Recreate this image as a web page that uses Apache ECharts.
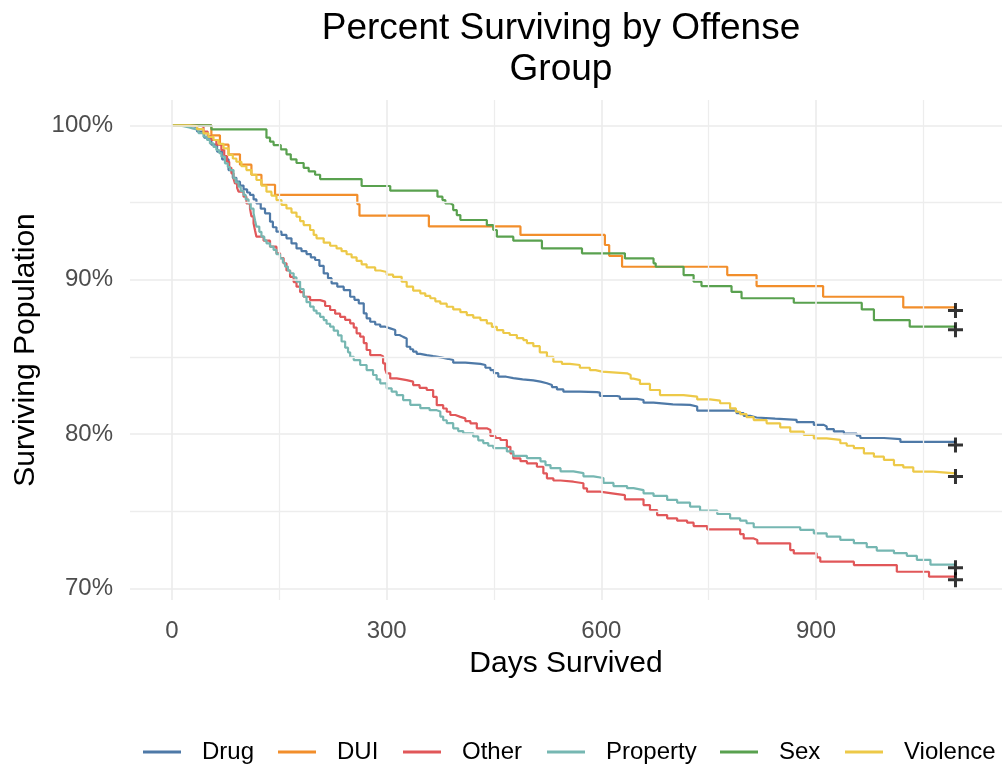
<!DOCTYPE html>
<html><head><meta charset="utf-8">
<script src="https://cdn.jsdelivr.net/npm/echarts@6/dist/echarts.min.js"></script>
<style>html,body{margin:0;padding:0;background:#fff}#c{width:1004px;height:764px}</style>
</head><body><div id="c"></div>
<script>
const groups = ['Drug','DUI','Other','Property','Sex','Violence'];
const colors = ['#4E79A7','#F28E2B','#E15759','#76B7B2','#59A14F','#EDC948'];

const drugDays = [0,20,35,45,55,63,70,79,85,90,95,100,105,109,114,118,124,130,137,141,146,153,160,167,174,181,188,194,200,206,212,218,223,231,240,249,255,261,268,272,277,284,291,298,305,312,318,323,328,333,337,342,347,356,365,376,386,393,410,431,438,445,450,456,467,477,490,505,515,524,531,538,547,570,594,598,622,626,650,659,673,700,724,734,789,799,808,817,843,873,897,911,915,925,939,957,962,995,1018,1095];
const drugPct = [100,99.9,99.6,99.2,98.75,98.3,97.8,97.1,96.6,96.35,96.1,95.85,95.65,95.49,95.2,94.95,94.6,94.3,93.76,93.4,93.11,92.9,92.68,92.35,92.03,91.85,91.66,91.45,91.28,90.9,90.41,90.1,89.77,89.55,89.33,88.9,88.7,88.47,87.82,87.5,87.28,87.1,86.96,86.85,86.74,86.42,86.3,86.2,85.66,85.5,85.34,85.2,85.12,85.05,84.97,84.88,84.8,84.63,84.55,84.48,84.3,84.15,83.95,83.72,83.63,83.55,83.48,83.4,83.3,83.18,83.05,82.9,82.75,82.72,82.69,82.47,82.43,82.28,82.21,82.04,81.93,81.9,81.79,81.53,81.36,81.19,81.08,81.0,80.93,80.78,80.6,80.5,80.33,80.18,80.03,79.9,79.75,79.68,79.5,79.5];

const duiDays = [0,55,67,79,95,111,125,144,259,262,359,487,605,611,629,776,817,910,1022,1095];
const duiPct = [100,99.35,98.75,98.12,97.45,96.8,96.15,95.5,94.9,94.15,93.45,92.9,92.25,91.55,90.84,90.3,89.59,88.9,88.21,88.21];

const otherDays = [0,30,44,50,55,62,69,73,77,80,83,86,88,91,93,100,104,109,111,114,116,118,128,137,146,151,156,160,165,170,174,179,184,193,207,214,221,228,235,242,249,254,258,263,268,272,277,291,295,298,300,305,314,328,337,346,356,365,370,379,384,389,396,403,410,417,426,440,445,452,459,468,473,477,487,496,510,519,524,533,543,561,575,580,598,615,633,659,668,678,692,706,720,729,748,794,799,813,818,864,869,901,906,953,1013,1058,1095];
const otherPct = [100,99.95,99.59,99.3,99.05,98.75,98.4,98.0,97.64,97.25,96.89,96.55,96.24,95.95,95.7,95.38,94.95,94.62,94.1,93.65,93.2,92.79,92.53,92.14,91.71,91.4,91.06,90.6,90.19,89.85,89.55,89.2,88.9,88.68,88.58,88.3,88.04,87.8,87.6,87.4,87.18,86.9,86.53,86.31,85.9,85.45,85.12,85.05,84.59,84.2,83.94,83.61,83.5,83.4,83.18,83.0,82.86,82.42,81.88,81.66,81.45,81.24,81.12,81.02,80.85,80.7,80.38,80.27,79.88,79.75,79.62,79.18,78.76,78.43,78.25,78.11,77.89,77.46,77.14,77.0,76.92,76.82,76.49,76.28,76.17,76.05,75.78,75.41,75.09,74.76,74.55,74.4,74.27,74.05,73.84,73.53,73.25,73.14,72.93,72.49,72.28,72.02,71.74,71.52,71.09,70.77,70.77];

const propertyDays = [0,10,16,24,30,37,44,49,53,58,62,66,69,74,78,81,86,89,93,96,100,103,107,110,114,116,118,122,125,129,132,137,142,146,151,155,158,162,165,170,174,179,184,188,193,198,202,207,212,216,221,226,232,237,242,246,249,254,263,272,281,286,291,300,307,314,323,333,347,360,370,375,379,384,393,400,407,421,428,435,442,449,468,477,496,515,522,529,543,561,575,589,603,617,636,645,659,673,692,706,724,738,762,780,794,803,813,878,897,915,934,953,971,985,1009,1027,1041,1060,1095];
const propertyPct = [100,99.95,99.87,99.78,99.7,99.5,99.26,99.05,98.83,98.6,98.4,98.2,97.97,97.54,97.3,97.1,96.57,96.3,96.03,95.75,95.49,95.2,94.95,94.6,94.3,93.85,93.44,93.1,92.79,92.55,92.36,92.15,91.93,91.65,91.39,91.1,90.85,90.6,90.42,90.15,89.88,89.4,88.9,88.55,88.26,88.0,87.82,87.6,87.39,87.15,86.96,86.7,86.4,86.0,85.6,85.3,85.01,84.8,84.48,84.15,83.83,83.55,83.29,82.97,82.75,82.53,82.21,81.9,81.68,81.55,81.47,81.14,80.9,80.71,80.38,80.2,80.06,79.85,79.6,79.42,79.25,79.1,78.88,78.6,78.45,78.24,78.0,77.8,77.59,77.48,77.27,77.16,76.84,76.64,76.5,76.38,76.17,76.0,75.74,75.57,75.31,75.05,74.83,74.55,74.4,74.23,73.97,73.8,73.58,73.37,73.15,72.94,72.68,72.46,72.29,72.12,71.86,71.55,71.55];

const sexDays = [0,55,132,137,142,152,160,166,174,184,191,200,207,265,305,371,378,382,389,393,398,403,440,449,454,477,517,573,633,673,676,715,729,740,782,796,869,964,981,1031,1095];
const sexPct = [100,99.74,99.2,98.94,98.72,98.44,98.12,97.8,97.56,97.25,97.02,96.8,96.52,96.07,95.77,95.38,95.16,94.95,94.84,94.51,94.19,93.87,93.54,93.22,92.79,92.53,92.03,91.71,91.38,91.06,90.84,90.3,89.87,89.59,89.22,88.8,88.51,88.08,87.39,86.96,86.96];

const violenceDays = [0,25,35,44,51,58,65,72,79,85,90,97,104,111,118,125,132,139,146,153,160,167,174,179,184,193,198,202,212,221,230,237,244,251,258,265,272,284,291,300,309,321,328,337,347,354,361,368,375,384,393,403,412,421,431,440,447,454,463,472,482,491,496,505,514,524,533,545,556,570,584,592,601,636,641,645,654,668,682,715,734,752,766,780,788,794,803,813,831,850,864,883,897,915,934,943,953,967,981,995,1009,1022,1036,1064,1095];
const violencePct = [100,99.95,99.75,99.48,99.25,99.05,98.8,98.51,98.08,97.85,97.64,97.35,97.1,96.8,96.46,96.1,95.7,95.45,95.16,94.85,94.62,94.35,94.08,93.8,93.54,93.22,92.9,92.68,92.4,92.2,92.03,91.85,91.65,91.45,91.22,91.0,90.8,90.6,90.5,90.33,90.19,89.87,89.55,89.3,89.12,88.95,88.8,88.6,88.45,88.25,88.08,87.9,87.71,87.55,87.39,87.18,86.95,86.74,86.55,86.42,86.22,86.09,85.9,85.7,85.3,85.0,84.69,84.55,84.48,84.3,84.15,84.05,83.94,83.83,83.6,83.5,83.25,82.86,82.53,82.43,82.25,82.17,82.0,81.67,81.45,81.3,81.1,80.91,80.7,80.44,80.16,79.95,79.73,79.63,79.41,79.25,79.09,78.76,78.54,78.33,78.0,77.85,77.57,77.46,77.46];

const xTicks = [0,300,600,900];
const xMinor = [150,450,750,1050];
const yTicks = [70,80,90,100];
const yMinor = [75,85,95];

const allDays = [drugDays,duiDays,otherDays,propertyDays,sexDays,violenceDays];
const allPct = [drugPct,duiPct,otherPct,propertyPct,sexPct,violencePct];
const zip = (a,b) => a.map((v,i)=>[v,b[i]]);

const font = '"Liberation Sans", Arial, Helvetica, sans-serif';
const legendLeft = [143,278,403,547,720,845];

const series = [];
series.push({
  type:'line', name:'_major', data:[], silent:true, z:1, animation:false,
  markLine:{silent:true, animation:false, symbol:['none','none'], label:{show:false},
    lineStyle:{color:'#EBEBEB', width:1.6, type:'solid'},
    emphasis:{disabled:true},
    data:[...xTicks.map(v=>({xAxis:v})), ...yTicks.map(v=>({yAxis:v}))]}
});
series.push({
  type:'line', name:'_minor', data:[], silent:true, z:1, animation:false,
  markLine:{silent:true, animation:false, symbol:['none','none'], label:{show:false},
    lineStyle:{color:'#EDEDED', width:1.3, type:'solid'},
    emphasis:{disabled:true},
    data:[...xMinor.map(v=>({xAxis:v})), ...yMinor.map(v=>({yAxis:v}))]}
});
groups.forEach((g,i)=>{
  series.push({
    name:g, type:'line', step:'end', showSymbol:false, symbol:'none',
    data: zip(allDays[i], allPct[i]),
    lineStyle:{color:colors[i], width:2.2}, itemStyle:{color:colors[i]},
    z:3, silent:true, animation:false
  });
});
series.push({
  type:'scatter', name:'_censor', silent:true, animation:false, z:10,
  data: allDays.map((d,i)=>[d[d.length-1], allPct[i][allPct[i].length-1]]),
  symbol:'path://M5.6,0H8.4V5.6H14V8.4H8.4V14H5.6V8.4H0V5.6H5.6Z', symbolSize:15, symbolOffset:[0,3],
  itemStyle:{color:'#000'}
});

const option = {
  backgroundColor:'#fff',
  animation:false,
  title:{
    text:'Percent Surviving by Offense\nGroup', left:561, top:8, textAlign:'center', padding:0,
    textStyle:{fontSize:37, fontWeight:'normal', color:'#000', fontFamily:font, lineHeight:41}
  },
  legend: groups.map((g,i)=>({
    data:[g], left:legendLeft[i], top:740, padding:0, itemGap:0,
    itemWidth:38, itemHeight:3, icon:'rect', selectedMode:false,
    textStyle:{fontSize:24, color:'#000', fontFamily:font, padding:[0,0,0,16]}
  })),
  grid:{left:130, right:2, top:100, bottom:164, containLabel:false, outerBoundsMode:'none'},
  xAxis:{
    type:'value', min:-58.7, max:1160,
    axisLine:{show:false}, axisTick:{show:false}, splitLine:{show:false},
    axisLabel:{customValues:xTicks, color:'#4D4D4D', fontSize:24, margin:19, fontFamily:font},
    name:'Days Survived', nameLocation:'middle', nameGap:49,
    nameTextStyle:{color:'#000', fontSize:30, fontFamily:font}
  },
  yAxis:{
    type:'value', min:69.26, max:101.64,
    axisLine:{show:false}, axisTick:{show:false}, splitLine:{show:false},
    axisLabel:{customValues:yTicks, formatter:(v)=>v+'%', color:'#4D4D4D', fontSize:24, margin:17, fontFamily:font},
    name:'Surviving Population', nameLocation:'middle', nameGap:85, nameRotate:90,
    nameTextStyle:{color:'#000', fontSize:30, fontFamily:font}
  },
  series: series
};
const chart = echarts.init(document.getElementById('c'));
chart.setOption(option);
</script>
</body></html>
